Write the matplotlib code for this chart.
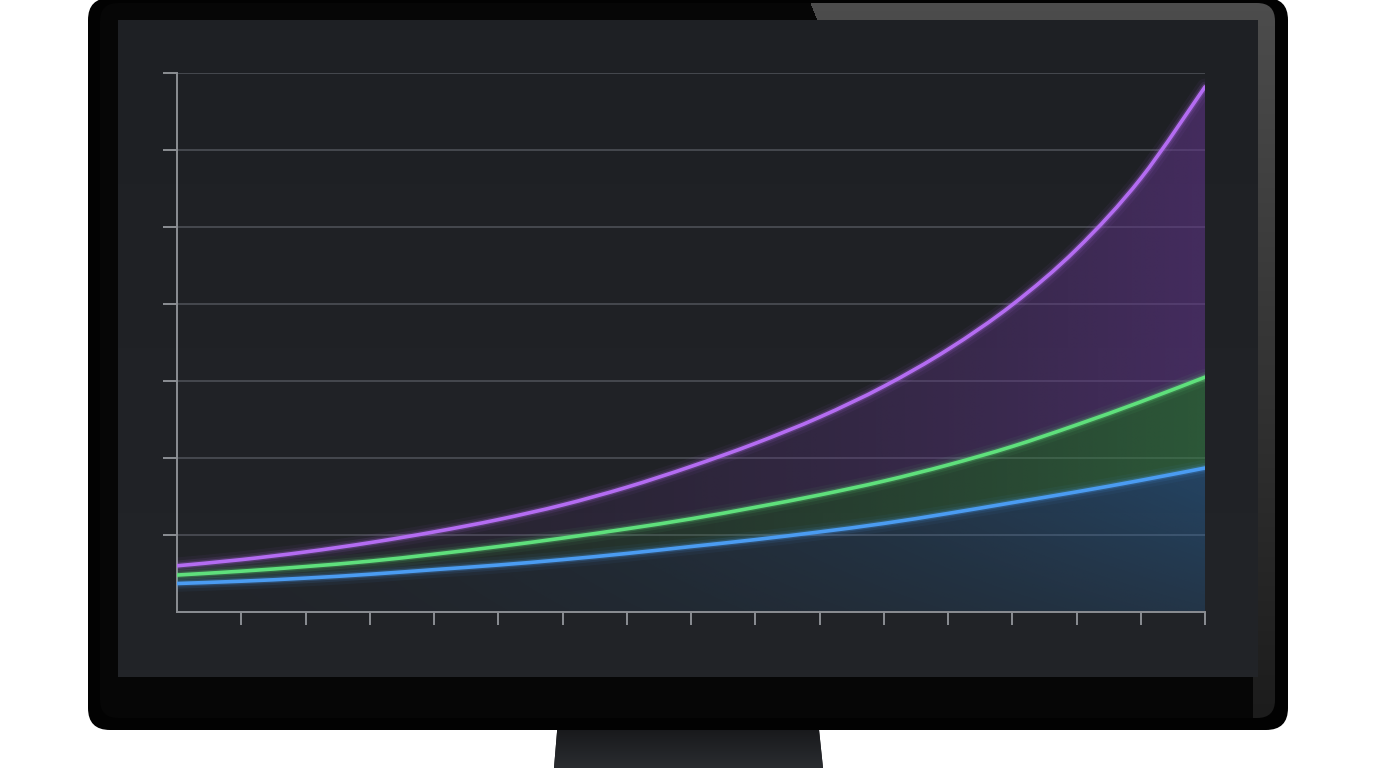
import numpy as np
import matplotlib
matplotlib.use("Agg")
import matplotlib.pyplot as plt
from matplotlib.patches import FancyBboxPatch, Polygon, Rectangle, PathPatch
from matplotlib.path import Path

# chart values (x = step, y = grid units)
steps = list(range(17))
purple = [0.60, 0.68, 0.78, 0.90, 1.04, 1.20, 1.39, 1.62, 1.89, 2.19, 2.53, 2.93, 3.41, 3.99, 4.71, 5.63, 6.82]
green = [0.48, 0.53, 0.59, 0.66, 0.75, 0.85, 0.96, 1.08, 1.21, 1.36, 1.52, 1.70, 1.91, 2.15, 2.43, 2.73, 3.05]
blue = [0.37, 0.40, 0.44, 0.49, 0.55, 0.61, 0.68, 0.76, 0.85, 0.94, 1.04, 1.15, 1.28, 1.42, 1.56, 1.71, 1.87]
baseline = [0.0] * 17
x_ticks = list(range(1, 17))
y_ticks = list(range(1, 8))

W, H = 1376, 768
fig = plt.figure(figsize=(W / 100, H / 100), dpi=100)
fig.patch.set_facecolor("white")

# ---- monitor drawn in pixel coordinates ----
bg = fig.add_axes([0, 0, 1, 1])
bg.set_xlim(0, W)
bg.set_ylim(H, 0)
bg.axis("off")

# stand
stand = Polygon([(558, 720), (818, 720), (823, 768), (554, 768)], closed=True,
                facecolor="#1c1d20", edgecolor="none", zorder=1)
bg.add_patch(stand)
grad = np.linspace(0, 1, 50)[:, None] * np.ones((1, 10))
im = bg.imshow(grad, cmap=matplotlib.colors.LinearSegmentedColormap.from_list("st", ["#141517", "#2a2c30"]),
               extent=(554, 823, 768, 720), aspect="auto", zorder=1.5)
im.set_clip_path(stand)

# outer bezel
outer = FancyBboxPatch((88, -2), 1200, 732, boxstyle="round,pad=0,rounding_size=22",
                       facecolor="#020202", edgecolor="none", zorder=2)
bg.add_patch(outer)

# inner frame with a glossy reflection along the top right
inner = FancyBboxPatch((100, 3), 1175, 715, boxstyle="round,pad=0,rounding_size=18",
                       facecolor="#060606", edgecolor="none", zorder=3)
bg.add_patch(inner)
yy, xx = np.mgrid[3:718, 100:1275]
shade = 0.30 - 0.19 * (yy - 3) / 715
gloss = np.zeros((yy.shape[0], yy.shape[1], 4))
gloss[..., 0] = shade
gloss[..., 1] = shade
gloss[..., 2] = shade
gloss[..., 3] = ((xx > 810 + 0.4 * (yy - 3)) & ((yy < 24) | (xx > 1252))).astype(float)
gim = bg.imshow(gloss, extent=(100, 1275, 718, 3), aspect="auto", zorder=3.5, interpolation="bilinear")
gim.set_clip_path(inner)

# screen
scr = Rectangle((118, 20), 1140, 657, facecolor="#1f2125", edgecolor="none", zorder=4)
bg.add_patch(scr)
sg = np.linspace(0, 1, 100)[:, None] * np.ones((1, 10))
sim = bg.imshow(sg, cmap=matplotlib.colors.LinearSegmentedColormap.from_list("sc", ["#1e2024", "#222428"]),
                extent=(118, 1258, 677, 20), aspect="auto", zorder=4.5)
sim.set_clip_path(scr)

# ---- the chart on the screen ----
ax = fig.add_axes([177 / W, (H - 612) / H, 1028 / W, 539 / H])
ax.set_facecolor("none")
ax.set_zorder(5)

spine_col = "#8b8e93"
for s in ["top", "right"]:
    ax.spines[s].set_visible(False)
for s in ["left", "bottom"]:
    ax.spines[s].set_color(spine_col)
    ax.spines[s].set_linewidth(1.4)

ax.set_xticks(x_ticks)
ax.set_yticks(y_ticks)
ax.set_xticklabels([])
ax.set_yticklabels([])
ax.tick_params(axis="x", direction="out", length=9.5, width=1.4, color=spine_col)
ax.tick_params(axis="y", direction="out", length=10, width=1.4, color=spine_col)
for yv in y_ticks:
    ax.axhline(yv, color="#50535a", lw=1.1, zorder=1)


def smooth_verts(xs, ys):
    # bezier path through the points (catmull-rom style handles)
    p = np.column_stack([xs, ys]).astype(float)
    ext = np.vstack([p[0], p, p[-1]])
    verts = [p[0]]
    for i in range(len(p) - 1):
        c1 = ext[i + 1] + (ext[i + 2] - ext[i]) / 6
        c2 = ext[i + 2] - (ext[i + 3] - ext[i + 1]) / 6
        verts += [c1, c2, p[i + 1]]
    return np.array(verts)


def curve_path(xs, ys):
    v = smooth_verts(xs, ys)
    codes = [Path.MOVETO] + [Path.CURVE4] * (len(v) - 1)
    return Path(v, codes)


def band_path(lower, upper):
    up = smooth_verts(steps, upper)
    lo = smooth_verts(steps, lower)[::-1]
    v = np.vstack([up, lo, up[:1]])
    codes = ([Path.MOVETO] + [Path.CURVE4] * (len(up) - 1) + [Path.LINETO]
             + [Path.CURVE4] * (len(lo) - 1) + [Path.CLOSEPOLY])
    return Path(v, codes)


def gradient_fill(lower, upper, color, amax, vert=False):
    gx = np.linspace(0, 1, 400)[None, :]
    gy = np.linspace(1, 0, 300)[:, None]
    alpha = 0.04 + amax * gx ** 1.6
    if vert:
        alpha = alpha * np.clip(0.45 + 1.4 * gy, 0, 1.25)
    alpha = np.broadcast_to(alpha, (300, 400)).clip(0, 1)
    rgba = np.zeros((300, 400, 4))
    rgba[..., :3] = matplotlib.colors.to_rgb(color)
    rgba[..., 3] = alpha
    img = ax.imshow(rgba, extent=(0, 16, 0, 7), aspect="auto", zorder=2, interpolation="bilinear")
    img.set_clip_path(band_path(lower, upper), ax.transData)


gradient_fill(green, purple, "#5e3486", 0.55)
gradient_fill(blue, green, "#357d45", 0.55)
gradient_fill(baseline, blue, "#2a6fb0", 0.5, vert=True)


def glow_line(vals, color):
    path = curve_path(steps, vals)
    for lw, a in [(12, 0.05), (7.5, 0.10), (4.5, 0.22)]:
        ax.add_patch(PathPatch(path, fill=False, edgecolor=color, lw=lw, alpha=a,
                               capstyle="round", zorder=3))
    ax.add_patch(PathPatch(path, fill=False, edgecolor=color, lw=2.6, capstyle="round", zorder=4))


glow_line(blue, "#4b9cf2")
glow_line(green, "#5fe07c")
glow_line(purple, "#b46cf2")

ax.set_xlim(0, 16)
ax.set_ylim(0, 7)

fig.savefig("out.png", dpi=100, facecolor="white")
